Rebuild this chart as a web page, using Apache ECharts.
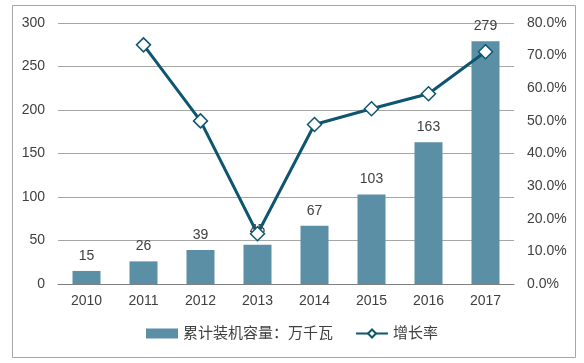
<!DOCTYPE html>
<html><head><meta charset="utf-8">
<script src="https://cdn.jsdelivr.net/npm/echarts@6/dist/echarts.min.js"></script>
<style>html,body{margin:0;padding:0;background:#fff}#c{width:584px;height:363px}</style>
</head><body><div id="c"></div>
<script>
const categories = ['2010','2011','2012','2013','2014','2015','2016','2017'];
const capacity = [15, 26, 39, 45, 67, 103, 163, 279];
const growth = [null, 73.3, 50.0, 15.4, 48.9, 53.7, 58.3, 71.2];
const capName = '累计装机容量：万千瓦';
const growthName = '增长率';

const chart = echarts.init(document.getElementById('c'), null, {renderer:'canvas'});
const font = '"Liberation Sans", Arial, "Noto Sans CJK SC", sans-serif';
chart.setOption({
  animation: false,
  textStyle: {fontFamily: font},
  graphic: [{type:'rect', shape:{x:12.5,y:5.5,width:563,height:352}, style:{fill:'none', stroke:'#a6a6a6', lineWidth:1}, silent:true}],
  grid: {left:58, right:70, top:23, bottom:79, containLabel:false},
  legend: {
    bottom: 17, left: 'center', itemGap: 22, itemWidth: 32, itemHeight: 10,
    textStyle: {fontSize: 15, color:'#404040', fontFamily: font},
    data: [{name: capName, icon: 'rect'}, {name: growthName}]
  },
  xAxis: {
    type:'category', data: categories,
    axisLine:{lineStyle:{color:'#7f7f7f', width:1}},
    axisTick:{show:false},
    axisLabel:{fontSize:14, color:'#404040', margin:10}
  },
  yAxis: [{
    type:'value', min:0, max:300, interval:50,
    axisLine:{show:false}, axisTick:{show:false},
    axisLabel:{fontSize:14, color:'#404040', margin:13},
    splitLine:{lineStyle:{color:'#a6a6a6'}}
  },{
    type:'value', min:0, max:80, interval:10,
    axisLine:{show:false}, axisTick:{show:false},
    axisLabel:{fontSize:14, color:'#404040', margin:13, formatter: v => v.toFixed(1)+'%'},
    splitLine:{show:false}
  }],
  series: [{
    name: capName, type:'bar', data: capacity, barWidth: 28,
    itemStyle:{color:'#5b8fa6'},
    label:{show:true, position:'top', fontSize:14, color:'#404040', distance:8}
  },{
    name: growthName, type:'line', yAxisIndex:1, data: growth,
    lineStyle:{color:'#0e5670', width:3},
    itemStyle:{color:'#fff', borderColor:'#0e5670', borderWidth:1.5},
    symbol:'diamond', symbolSize:14, showAllSymbol:true, connectNulls:false
  }]
});
</script></body></html>
